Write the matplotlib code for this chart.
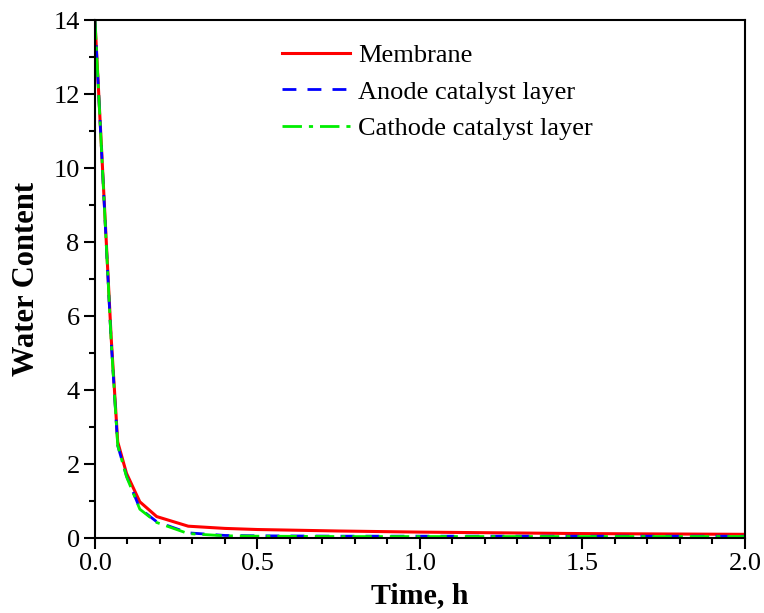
import matplotlib
matplotlib.use("Agg")
import matplotlib.pyplot as plt
from matplotlib.ticker import MultipleLocator

plt.rcParams['font.family'] = ['Liberation Serif', 'DejaVu Serif']

# Water content drying curves
time_h = [0.0, 0.05, 0.07, 0.097, 0.138, 0.19, 0.287, 0.40, 0.50, 0.75, 1.0, 1.25, 1.5, 1.75, 2.0]
membrane = [14.0, 5.4, 2.6, 1.75, 0.98, 0.58, 0.32, 0.26, 0.23, 0.19, 0.16, 0.14, 0.12, 0.11, 0.10]
anode_cl = [14.0, 5.3, 2.5, 1.68, 0.80, 0.44, 0.14, 0.07, 0.06, 0.05, 0.05, 0.05, 0.05, 0.05, 0.05]
cathode_cl = [14.0, 5.3, 2.5, 1.66, 0.78, 0.42, 0.12, 0.06, 0.05, 0.04, 0.04, 0.04, 0.04, 0.04, 0.04]

series_labels = ['Membrane', 'Anode catalyst layer', 'Cathode catalyst layer']

fig = plt.figure(figsize=(7.64, 6.13), dpi=100)
ax = fig.add_axes([0.1243, 0.1223, 0.8507, 0.8447])

ax.plot(time_h, membrane, color='#ff0000', lw=2.2, ls='-', label=series_labels[0])
ax.plot(time_h, anode_cl, color='#0000ff', lw=2.0, ls=(0, (5, 4)), label=series_labels[1])
ax.plot(time_h, cathode_cl, color='#00ee00', lw=2.0, ls=(0, (7, 2.5, 1.5, 2.5)), label=series_labels[2])

ax.set_xlim(0, 2.0)
ax.set_ylim(0, 14)
ax.xaxis.set_minor_locator(MultipleLocator(0.1))
ax.yaxis.set_major_locator(MultipleLocator(2))
ax.yaxis.set_minor_locator(MultipleLocator(1))
ax.set_xticks([0.0, 0.5, 1.0, 1.5, 2.0])
ax.set_xticklabels(['0.0', '0.5', '1.0', '1.5', '2.0'])

ax.tick_params(which='major', direction='out', length=8, width=1.5, labelsize=19,
               top=False, right=False, pad=3)
ax.tick_params(which='minor', direction='out', length=4.5, width=1.5, top=False, right=False)
for s in ax.spines.values():
    s.set_linewidth(1.5)

ax.set_xlabel('Time, h', fontsize=21.5, fontweight='bold', labelpad=5)
ax.set_ylabel('Water Content', fontsize=22, fontweight='bold', labelpad=9)

leg = ax.legend(loc='upper left', bbox_to_anchor=(0.255, 0.996), frameon=False, fontsize=19,
                handlelength=2.6, handletextpad=0.28, labelspacing=0.5, borderaxespad=0.4)

fig.savefig('out.png', dpi=100)
